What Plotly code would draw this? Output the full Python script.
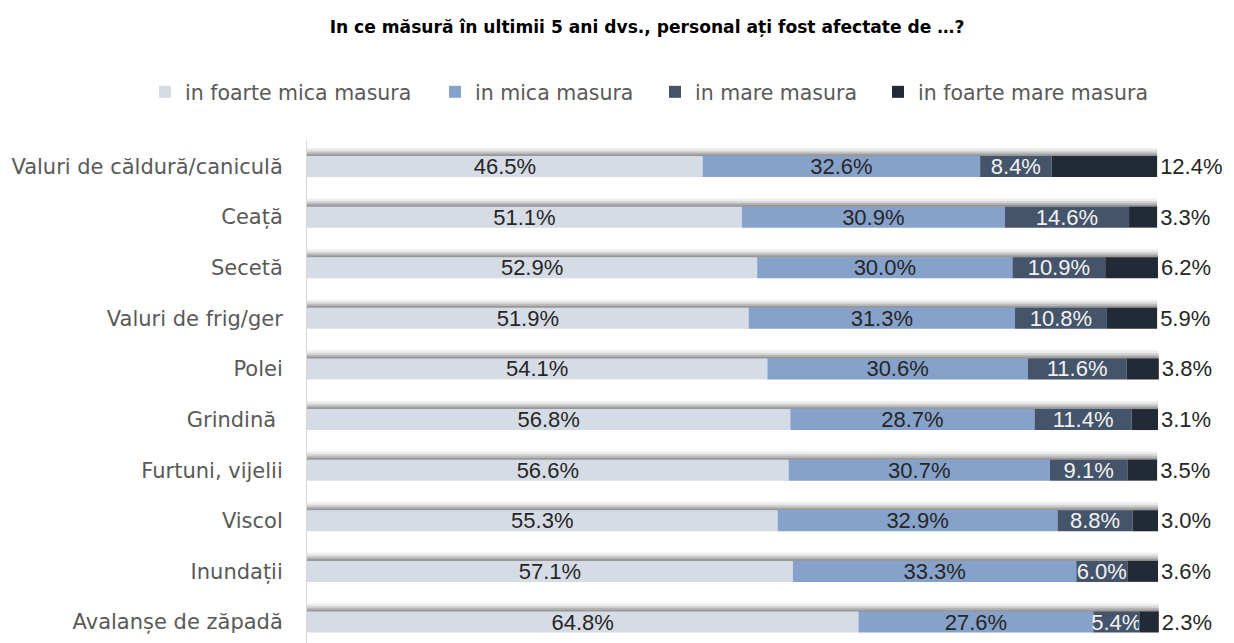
import numpy as np
import plotly.graph_objects as go

categories = [
    "Valuri de căldură/caniculă",
    "Ceață",
    "Secetă",
    "Valuri de frig/ger",
    "Polei",
    "Grindină ",
    "Furtuni, vijelii",
    "Viscol",
    "Inundații",
    "Avalanșe de zăpadă",
]
series_names = ["in foarte mica masura", "in mica masura", "in mare masura", "in foarte mare masura"]
foarte_mica = [46.5, 51.1, 52.9, 51.9, 54.1, 56.8, 56.6, 55.3, 57.1, 64.8]
mica = [32.6, 30.9, 30.0, 31.3, 30.6, 28.7, 30.7, 32.9, 33.3, 27.6]
mare = [8.4, 14.6, 10.9, 10.8, 11.6, 11.4, 9.1, 8.8, 6.0, 5.4]
foarte_mare = [12.4, 3.3, 6.2, 5.9, 3.8, 3.1, 3.5, 3.0, 3.6, 2.3]

values = [foarte_mica, mica, mare, foarte_mare]
colors = ["#D6DCE5", "#86A2CA", "#44546A", "#222A35"]
text_colors = ["#262626", "#262626", "#F2F2F2", "#262626"]

# page has an 8px body margin; figure coordinates are page coordinates minus 8
PAGE_OFF = 8
W, H = 1234 - PAGE_OFF, 643 - PAGE_OFF
legend_text_x = [185, 475, 695, 918]  # page px where legend texts start

LABEL_FONT = "Liberation Sans"
AXIS_FONT = "DejaVu Sans"
BAR_W = 0.415
totals = np.sum(np.array(values), axis=0)

fig = go.Figure()

# soft shadow above each bar (layers of translucent gray)
for h, a in [(0.17, 0.07), (0.12, 0.10), (0.08, 0.14), (0.045, 0.16)]:
    fig.add_trace(go.Bar(
        y=categories, x=totals, base=0, orientation="h",
        width=h, offset=-BAR_W / 2 - h + 0.01,
        marker=dict(color=f"rgba(0,0,0,{a})", line=dict(width=0)),
        showlegend=False, hoverinfo="skip",
    ))

bases = np.cumsum([np.zeros(len(categories))] + [np.array(v) for v in values[:-1]], axis=0)
legend_ids = ["legend", "legend2", "legend3", "legend4"]
for i, (name, vals) in enumerate(zip(series_names, values)):
    last = i == len(values) - 1
    fig.add_trace(go.Bar(
        y=categories, x=vals, base=bases[i], orientation="h", name=name,
        width=BAR_W, offset=-BAR_W / 2,
        marker=dict(color=colors[i], line=dict(width=0)),
        text=[f"{v:.1f}%" for v in vals],
        textposition="outside" if last else "inside",
        insidetextanchor="middle",
        constraintext="none",
        textangle=0,
        textfont=dict(family=LABEL_FONT, size=22, color=text_colors[i]),
        cliponaxis=False,
        legend=legend_ids[i],
    ))

legend_common = dict(
    orientation="h", xref="container", yref="container",
    xanchor="left", y=1 - (92 - PAGE_OFF) / H, yanchor="middle",
    font=dict(family=AXIS_FONT, size=20.5, color="#595959"),
    bgcolor="rgba(0,0,0,0)", borderwidth=0,
)
legends = {}
for lid, tx in zip(legend_text_x and legend_ids, legend_text_x):
    legends[lid] = dict(legend_common, x=(tx - PAGE_OFF - 40) / W)

fig.update_layout(
    barmode="overlay",
    width=W, height=H,
    margin=dict(l=307 - PAGE_OFF, r=1234 - 1175, t=140 - PAGE_OFF, b=0, autoexpand=False),
    paper_bgcolor="white", plot_bgcolor="white",
    title=dict(
        text="<b>In ce măsură în ultimii 5 ani dvs., personal ați fost afectate de …?</b>",
        x=(647 - PAGE_OFF) / W, xanchor="center", y=1 - (27 - PAGE_OFF) / H, yanchor="middle",
        font=dict(family=AXIS_FONT, size=17.1, color="#000000"),
    ),
    xaxis=dict(range=[0, 102], visible=False, fixedrange=True, automargin=False),
    yaxis=dict(
        categoryorder="array", categoryarray=categories,
        range=[9.415, -0.524],
        showline=True, linecolor="#D9D9D9", linewidth=1,
        showgrid=False, zeroline=False, ticks="",
        ticklabelstandoff=19, automargin=False,
        tickfont=dict(family=AXIS_FONT, size=21, color="#595959"),
    ),
    showlegend=True,
    **legends,
)

fig.write_html("out.html")
